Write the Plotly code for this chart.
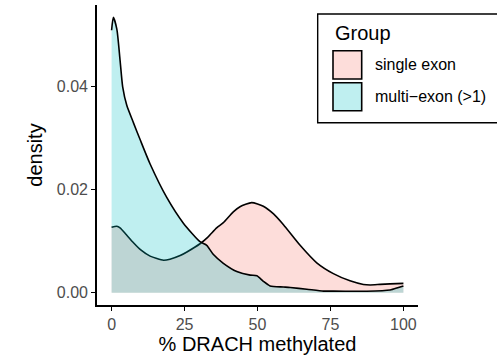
import plotly.graph_objects as go

# ---- data ----
groups = ["single exon", "multi\u2212exon (>1)"]

single_x = [0, 1.8, 2.9, 5.0, 7.5, 10.0, 13.2, 17.8, 20.0, 23.5, 25.8, 30.3, 33.0, 36.0, 38.3,
            41.7, 44.0, 48.0, 52.0, 55.5, 58.9, 64.6, 70.3, 76.0, 81.7, 86.3, 88.6, 92.0, 95.4, 100]
single_y = [0.0127, 0.0129, 0.0126, 0.0113, 0.0097, 0.0083, 0.0071, 0.0063, 0.0065, 0.0072, 0.0079,
            0.0095, 0.0108, 0.0126, 0.0136, 0.0157, 0.0167, 0.0175, 0.0168, 0.0153, 0.0132, 0.0092,
            0.0058, 0.0037, 0.0023, 0.0016, 0.0015, 0.0016, 0.0017, 0.0018]

multi_x = [0, 0.6, 1.8, 2.9, 3.8, 5.2, 7.5, 9.8, 13.2, 18.9, 24.6, 30.3, 32.6, 34.9, 38.3, 42.9,
           47.5, 49.8, 52.0, 54.3, 58.9, 61.2, 66.9, 72.6, 76.0, 84.0, 87.5, 95.4, 98.3, 100]
multi_y = [0.0510, 0.0535, 0.0512, 0.0452, 0.0400, 0.0364, 0.0330, 0.0297, 0.0250, 0.0185, 0.0135,
           0.0099, 0.0092, 0.0074, 0.0057, 0.0041, 0.0034, 0.0033, 0.0022, 0.0013, 0.0011, 0.0010,
           0.00066, 0.0003, 0.0003, 0.00027, 0.00027, 0.0005, 0.0010, 0.0013]

x_ticks = [0, 25, 50, 75, 100]
y_ticks = [0.00, 0.02, 0.04]

fill_colors = ["rgba(248,118,109,0.25)", "rgba(0,191,196,0.25)"]
FONT = "Liberation Sans, Arial, Helvetica, sans-serif"

fig = go.Figure()
for name, xs, ys, fc in [(groups[0], single_x, single_y, fill_colors[0]),
                         (groups[1], multi_x, multi_y, fill_colors[1])]:
    fig.add_trace(go.Scatter(
        x=xs, y=ys, name=name, mode="lines", fill="tozeroy", fillcolor=fc,
        line=dict(color="black", width=1.6, shape="spline", smoothing=0.6),
        showlegend=False, hoverinfo="x+y+name"))

axis_common = dict(showgrid=False, zeroline=False, showline=True, linecolor="black",
                   linewidth=1.6, ticks="outside", ticklen=4, tickwidth=1.4, tickcolor="black",
                   tickfont=dict(family=FONT, size=16, color="#4D4D4D"))

fig.update_xaxes(range=[-5, 105], tickvals=x_ticks,
                 title=dict(text="% DRACH methylated", font=dict(family=FONT, size=20, color="black"),
                            standoff=5),
                 **axis_common)
fig.update_yaxes(range=[-0.0024, 0.0559], tickvals=y_ticks, tickformat=".2f",
                 title=dict(text="density", font=dict(family=FONT, size=20, color="black"),
                            standoff=9),
                 **axis_common)

# ---- manual legend (ggplot style) ----
shapes = [dict(type="rect", xref="paper", yref="paper", x0=0.6875, x1=1.27, y0=0.6077, y1=0.97,
               line=dict(color="black", width=1.4), fillcolor="white", layer="above")]
key_rows = [(0.7533, 0.8477), (0.6477, 0.741)]
for (y0, y1), fc in zip(key_rows, fill_colors):
    shapes.append(dict(type="rect", xref="paper", yref="paper", x0=0.7352, x1=0.8246, y0=y0, y1=y1,
                       line=dict(color="black", width=1.6), fillcolor=fc, layer="above"))
annotations = [dict(text="Group", xref="paper", yref="paper", x=0.7361, y=0.9067, xanchor="left",
                    yanchor="middle", showarrow=False, font=dict(family=FONT, size=20, color="black"))]
for (y0, y1), name in zip(key_rows, groups):
    annotations.append(dict(text=name, xref="paper", yref="paper", x=0.8607, y=(y0 + y1) / 2,
                            xanchor="left", yanchor="middle", showarrow=False,
                            font=dict(family=FONT, size=16, color="black")))

fig.update_layout(width=497, height=361, margin=dict(l=97, r=79, t=5, b=56),
                  plot_bgcolor="white", paper_bgcolor="white", showlegend=False,
                  shapes=shapes, annotations=annotations, font=dict(family=FONT))

fig.write_html("out.html", config={"displayModeBar": False},
               post_script="document.body.style.margin='0';document.body.style.overflow='hidden';")
